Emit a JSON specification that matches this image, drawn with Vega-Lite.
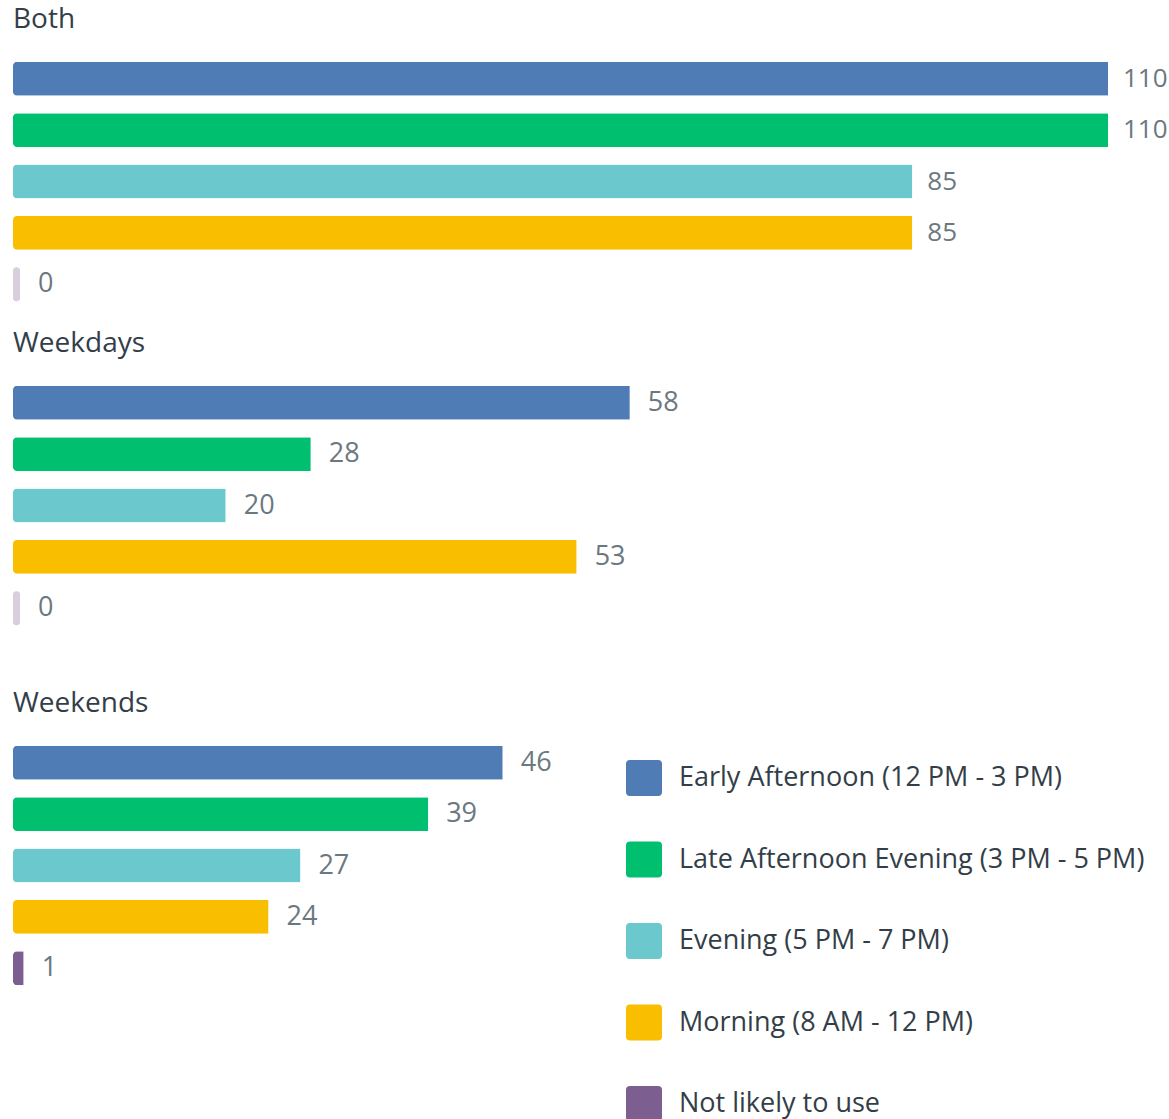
{
  "$schema": "https://vega.github.io/schema/vega-lite/v6.json",
  "padding": {"left": 13, "top": 6, "right": 0, "bottom": 0},
  "background": "white",
  "config": {
    "view": {"stroke": null},
    "font": "Open Sans",
    "title": {"fontSize": 28, "fontWeight": "normal", "color": "#333e48", "anchor": "start", "offset": 19, "font": "Open Sans"}
  },
  "datasets": {
    "both": [
      {"time": "Early Afternoon (12 PM - 3 PM)", "count": 110},
      {"time": "Late Afternoon Evening (3 PM - 5 PM)", "count": 110},
      {"time": "Evening (5 PM - 7 PM)", "count": 85},
      {"time": "Morning (8 AM - 12 PM)", "count": 85},
      {"time": "Not likely to use", "count": 0}
    ],
    "weekdays": [
      {"time": "Early Afternoon (12 PM - 3 PM)", "count": 58},
      {"time": "Late Afternoon Evening (3 PM - 5 PM)", "count": 28},
      {"time": "Evening (5 PM - 7 PM)", "count": 20},
      {"time": "Morning (8 AM - 12 PM)", "count": 53},
      {"time": "Not likely to use", "count": 0}
    ],
    "weekends": [
      {"time": "Early Afternoon (12 PM - 3 PM)", "count": 46},
      {"time": "Late Afternoon Evening (3 PM - 5 PM)", "count": 39},
      {"time": "Evening (5 PM - 7 PM)", "count": 27},
      {"time": "Morning (8 AM - 12 PM)", "count": 24},
      {"time": "Not likely to use", "count": 1}
    ]
  },
  "resolve": {"scale": {"color": "independent"}, "legend": {"color": "independent"}},
  "spacing": 56,
  "vconcat": [
    {
      "spacing": 20,
      "resolve": {"scale": {"color": "independent"}, "legend": {"color": "independent"}},
      "vconcat": [
        {
          "title": "Both",
          "width": 1095,
          "height": 257,
          "data": {"name": "both"},
          "encoding": {
            "y": {"field": "time", "type": "nominal", "axis": null,
              "sort": ["Early Afternoon (12 PM - 3 PM)", "Late Afternoon Evening (3 PM - 5 PM)", "Evening (5 PM - 7 PM)", "Morning (8 AM - 12 PM)", "Not likely to use"],
              "scale": {"paddingInner": 0.34, "paddingOuter": 0.17}},
            "x": {"field": "count", "type": "quantitative", "axis": null,
              "scale": {"domain": [0, 103.5], "clamp": true, "nice": false}}
          },
          "layer": [
            {
              "transform": [{"filter": "datum.count > 0"}],
              "mark": {"type": "bar", "cornerRadiusTopLeft": 4, "cornerRadiusBottomLeft": 4},
              "encoding": {
                "color": {"field": "time", "type": "nominal", "legend": null,
                  "scale": {"domain": ["Early Afternoon (12 PM - 3 PM)", "Late Afternoon Evening (3 PM - 5 PM)", "Evening (5 PM - 7 PM)", "Morning (8 AM - 12 PM)", "Not likely to use"],
                    "range": ["#507cb6", "#00bf6f", "#6bc8cd", "#f9be00", "#7d5e90"]}}
              }
            },
            {
              "transform": [{"filter": "datum.count == 0"}],
              "mark": {"type": "tick", "orient": "vertical", "thickness": 7, "size": 34, "xOffset": 3.5, "opacity": 0.3, "cornerRadius": 3},
              "encoding": {"color": {"field": "time", "type": "nominal", "legend": null}}
            },
            {
              "transform": [{"filter": "datum.count > 0"}],
              "mark": {"type": "text", "align": "left", "baseline": "middle", "dx": 15, "fontSize": 26, "color": "#6b787f"},
              "encoding": {"text": {"field": "count", "type": "quantitative"}}
            },
            {
              "transform": [{"filter": "datum.count == 0"}],
              "mark": {"type": "text", "align": "left", "baseline": "middle", "dx": 25, "fontSize": 27, "color": "#6b787f"},
              "encoding": {"text": {"field": "count", "type": "quantitative"}}
            }
          ]
        },
        {
          "title": "Weekdays",
          "width": 620,
          "height": 257,
          "data": {"name": "weekdays"},
          "encoding": {
            "y": {"field": "time", "type": "nominal", "axis": null,
              "sort": ["Early Afternoon (12 PM - 3 PM)", "Late Afternoon Evening (3 PM - 5 PM)", "Evening (5 PM - 7 PM)", "Morning (8 AM - 12 PM)", "Not likely to use"],
              "scale": {"paddingInner": 0.34, "paddingOuter": 0.17}},
            "x": {"field": "count", "type": "quantitative", "axis": null,
              "scale": {"domain": [0, 58.3], "nice": false}}
          },
          "layer": [
            {
              "transform": [{"filter": "datum.count > 0"}],
              "mark": {"type": "bar", "cornerRadiusTopLeft": 4, "cornerRadiusBottomLeft": 4},
              "encoding": {
                "color": {"field": "time", "type": "nominal", "legend": null,
                  "scale": {"domain": ["Early Afternoon (12 PM - 3 PM)", "Late Afternoon Evening (3 PM - 5 PM)", "Evening (5 PM - 7 PM)", "Morning (8 AM - 12 PM)", "Not likely to use"],
                    "range": ["#507cb6", "#00bf6f", "#6bc8cd", "#f9be00", "#7d5e90"]}}
              }
            },
            {
              "transform": [{"filter": "datum.count == 0"}],
              "mark": {"type": "tick", "orient": "vertical", "thickness": 7, "size": 34, "xOffset": 3.5, "opacity": 0.3, "cornerRadius": 3},
              "encoding": {"color": {"field": "time", "type": "nominal", "legend": null}}
            },
            {
              "transform": [{"filter": "datum.count > 0"}],
              "mark": {"type": "text", "align": "left", "baseline": "middle", "dx": 18, "fontSize": 27, "color": "#6b787f"},
              "encoding": {"text": {"field": "count", "type": "quantitative"}}
            },
            {
              "transform": [{"filter": "datum.count == 0"}],
              "mark": {"type": "text", "align": "left", "baseline": "middle", "dx": 25, "fontSize": 27, "color": "#6b787f"},
              "encoding": {"text": {"field": "count", "type": "quantitative"}}
            }
          ]
        }
      ]
    },
    {
      "title": "Weekends",
      "width": 610,
      "height": 257,
      "data": {"name": "weekends"},
      "encoding": {
        "y": {"field": "time", "type": "nominal", "axis": null,
          "sort": ["Early Afternoon (12 PM - 3 PM)", "Late Afternoon Evening (3 PM - 5 PM)", "Evening (5 PM - 7 PM)", "Morning (8 AM - 12 PM)", "Not likely to use"],
          "scale": {"paddingInner": 0.34, "paddingOuter": 0.17}},
        "x": {"field": "count", "type": "quantitative", "axis": null,
          "scale": {"domain": [0, 57.3], "nice": false}}
      },
      "layer": [
        {
          "mark": {"type": "bar", "cornerRadiusTopLeft": 4, "cornerRadiusBottomLeft": 4},
          "encoding": {
            "color": {"field": "time", "type": "nominal",
              "scale": {"domain": ["Early Afternoon (12 PM - 3 PM)", "Late Afternoon Evening (3 PM - 5 PM)", "Evening (5 PM - 7 PM)", "Morning (8 AM - 12 PM)", "Not likely to use"],
                "range": ["#507cb6", "#00bf6f", "#6bc8cd", "#f9be00", "#7d5e90"]},
              "legend": {
                "orient": "none", "legendX": 613, "legendY": 23, "title": null,
                "symbolType": "M -0.78,-1 L 0.78,-1 Q 1,-1 1,-0.78 L 1,0.78 Q 1,1 0.78,1 L -0.78,1 Q -1,1 -1,0.78 L -1,-0.78 Q -1,-1 -0.78,-1 Z",
                "symbolSize": 1296, "symbolStrokeWidth": 0, "symbolOpacity": 1,
                "labelFontSize": 27, "labelColor": "#333e48", "labelFont": "Open Sans",
                "labelOffset": 17, "rowPadding": 45.5, "labelLimit": 800, "padding": 0
              }}
          }
        },
        {
          "mark": {"type": "text", "align": "left", "baseline": "middle", "dx": 18, "fontSize": 27, "color": "#6b787f"},
          "encoding": {"text": {"field": "count", "type": "quantitative"}}
        }
      ]
    }
  ]
}
